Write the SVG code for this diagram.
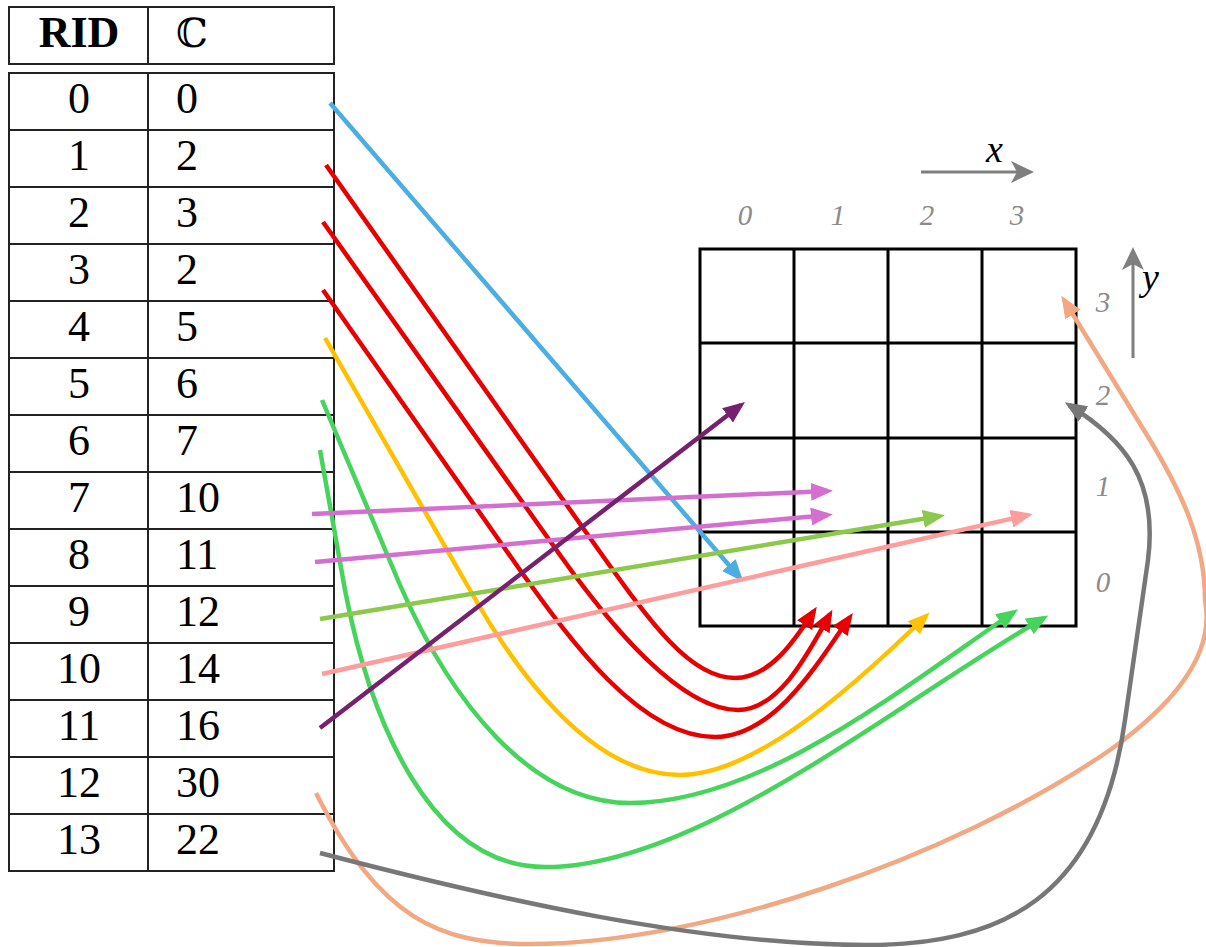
<svg xmlns="http://www.w3.org/2000/svg" width="1206" height="947" viewBox="0 0 1206 947">
<style>
.cell{fill:#fff;stroke:#222;stroke-width:2}
.num{font-family:"Liberation Serif",serif;font-size:44px;fill:#000}
.rid{text-anchor:middle}
.gl{fill:none;stroke:#000;stroke-width:3}
.lab{font-family:"Liberation Serif",serif;font-style:italic;font-size:29px;fill:#8a8a8a;text-anchor:middle}
.axv{font-family:"Liberation Serif",serif;font-style:italic;font-size:38px;fill:#000}
.c{fill:none;stroke-width:4.5}
</style>
<defs>
<marker id="m-blue" viewBox="0 0 22 18" refX="17" refY="9" markerWidth="22" markerHeight="18" markerUnits="userSpaceOnUse" orient="auto"><path d="M0,0 L22,9 L0,18 Z" fill="#4aaee0"/></marker>
<marker id="m-red" viewBox="0 0 22 18" refX="17" refY="9" markerWidth="22" markerHeight="18" markerUnits="userSpaceOnUse" orient="auto"><path d="M0,0 L22,9 L0,18 Z" fill="#e80000"/></marker>
<marker id="m-yel" viewBox="0 0 22 18" refX="17" refY="9" markerWidth="22" markerHeight="18" markerUnits="userSpaceOnUse" orient="auto"><path d="M0,0 L22,9 L0,18 Z" fill="#ffc000"/></marker>
<marker id="m-grn" viewBox="0 0 22 18" refX="17" refY="9" markerWidth="22" markerHeight="18" markerUnits="userSpaceOnUse" orient="auto"><path d="M0,0 L22,9 L0,18 Z" fill="#46d45c"/></marker>
<marker id="m-vio" viewBox="0 0 22 18" refX="17" refY="9" markerWidth="22" markerHeight="18" markerUnits="userSpaceOnUse" orient="auto"><path d="M0,0 L22,9 L0,18 Z" fill="#d46fd0"/></marker>
<marker id="m-lgr" viewBox="0 0 22 18" refX="17" refY="9" markerWidth="22" markerHeight="18" markerUnits="userSpaceOnUse" orient="auto"><path d="M0,0 L22,9 L0,18 Z" fill="#8cc84b"/></marker>
<marker id="m-pnk" viewBox="0 0 22 18" refX="17" refY="9" markerWidth="22" markerHeight="18" markerUnits="userSpaceOnUse" orient="auto"><path d="M0,0 L22,9 L0,18 Z" fill="#ff9c9c"/></marker>
<marker id="m-pur" viewBox="0 0 22 18" refX="17" refY="9" markerWidth="22" markerHeight="18" markerUnits="userSpaceOnUse" orient="auto"><path d="M0,0 L22,9 L0,18 Z" fill="#76206e"/></marker>
<marker id="m-org" viewBox="0 0 22 18" refX="17" refY="9" markerWidth="22" markerHeight="18" markerUnits="userSpaceOnUse" orient="auto"><path d="M0,0 L22,9 L0,18 Z" fill="#f2a882"/></marker>
<marker id="m-gry" viewBox="0 0 22 18" refX="17" refY="9" markerWidth="22" markerHeight="18" markerUnits="userSpaceOnUse" orient="auto"><path d="M0,0 L22,9 L0,18 Z" fill="#777"/></marker>
</defs>
<rect width="1206" height="947" fill="#fff"/>

<g id="table-header">
<rect class="cell" x="9" y="7" width="325" height="57"/>
<line x1="148" y1="7" x2="148" y2="64" stroke="#222" stroke-width="2"/>
<text class="num rid" x="79" y="47" font-weight="bold">RID</text>
<text class="num" x="176" y="47" style="font-family:'DejaVu Serif','Liberation Serif',serif;font-size:40px">ℂ</text>
</g>

<g id="table-body">
<g id="row-0"><rect class="cell" x="9" y="73" width="325" height="57"/><line x1="148" y1="73" x2="148" y2="130" stroke="#222" stroke-width="2"/><text class="num rid" x="79" y="113">0</text><text class="num" x="176" y="113">0</text></g>
<g id="row-1"><rect class="cell" x="9" y="130" width="325" height="57"/><line x1="148" y1="130" x2="148" y2="187" stroke="#222" stroke-width="2"/><text class="num rid" x="79" y="170">1</text><text class="num" x="176" y="170">2</text></g>
<g id="row-2"><rect class="cell" x="9" y="187" width="325" height="57"/><line x1="148" y1="187" x2="148" y2="244" stroke="#222" stroke-width="2"/><text class="num rid" x="79" y="227">2</text><text class="num" x="176" y="227">3</text></g>
<g id="row-3"><rect class="cell" x="9" y="244" width="325" height="57"/><line x1="148" y1="244" x2="148" y2="301" stroke="#222" stroke-width="2"/><text class="num rid" x="79" y="284">3</text><text class="num" x="176" y="284">2</text></g>
<g id="row-4"><rect class="cell" x="9" y="301" width="325" height="57"/><line x1="148" y1="301" x2="148" y2="358" stroke="#222" stroke-width="2"/><text class="num rid" x="79" y="341">4</text><text class="num" x="176" y="341">5</text></g>
<g id="row-5"><rect class="cell" x="9" y="358" width="325" height="57"/><line x1="148" y1="358" x2="148" y2="415" stroke="#222" stroke-width="2"/><text class="num rid" x="79" y="398">5</text><text class="num" x="176" y="398">6</text></g>
<g id="row-6"><rect class="cell" x="9" y="415" width="325" height="57"/><line x1="148" y1="415" x2="148" y2="472" stroke="#222" stroke-width="2"/><text class="num rid" x="79" y="455">6</text><text class="num" x="176" y="455">7</text></g>
<g id="row-7"><rect class="cell" x="9" y="472" width="325" height="57"/><line x1="148" y1="472" x2="148" y2="529" stroke="#222" stroke-width="2"/><text class="num rid" x="79" y="512">7</text><text class="num" x="176" y="512">10</text></g>
<g id="row-8"><rect class="cell" x="9" y="529" width="325" height="57"/><line x1="148" y1="529" x2="148" y2="586" stroke="#222" stroke-width="2"/><text class="num rid" x="79" y="569">8</text><text class="num" x="176" y="569">11</text></g>
<g id="row-9"><rect class="cell" x="9" y="586" width="325" height="57"/><line x1="148" y1="586" x2="148" y2="643" stroke="#222" stroke-width="2"/><text class="num rid" x="79" y="626">9</text><text class="num" x="176" y="626">12</text></g>
<g id="row-10"><rect class="cell" x="9" y="643" width="325" height="57"/><line x1="148" y1="643" x2="148" y2="700" stroke="#222" stroke-width="2"/><text class="num rid" x="79" y="683">10</text><text class="num" x="176" y="683">14</text></g>
<g id="row-11"><rect class="cell" x="9" y="700" width="325" height="57"/><line x1="148" y1="700" x2="148" y2="757" stroke="#222" stroke-width="2"/><text class="num rid" x="79" y="740">11</text><text class="num" x="176" y="740">16</text></g>
<g id="row-12"><rect class="cell" x="9" y="757" width="325" height="57"/><line x1="148" y1="757" x2="148" y2="814" stroke="#222" stroke-width="2"/><text class="num rid" x="79" y="797">12</text><text class="num" x="176" y="797">30</text></g>
<g id="row-13"><rect class="cell" x="9" y="814" width="325" height="57"/><line x1="148" y1="814" x2="148" y2="871" stroke="#222" stroke-width="2"/><text class="num rid" x="79" y="854">13</text><text class="num" x="176" y="854">22</text></g>
</g>

<g id="grid">
<rect class="gl" x="700" y="249" width="376" height="377"/>
<line class="gl" x1="794" y1="249" x2="794" y2="626"/>
<line class="gl" x1="888" y1="249" x2="888" y2="626"/>
<line class="gl" x1="982" y1="249" x2="982" y2="626"/>
<line class="gl" x1="700" y1="343" x2="1076" y2="343"/>
<line class="gl" x1="700" y1="438" x2="1076" y2="438"/>
<line class="gl" x1="700" y1="532" x2="1076" y2="532"/>
</g>

<g id="axis-labels">
<text class="lab" x="745" y="225">0</text>
<text class="lab" x="838" y="225">1</text>
<text class="lab" x="927" y="225">2</text>
<text class="lab" x="1017" y="225">3</text>
<text class="lab" x="1103" y="312">3</text>
<text class="lab" x="1103" y="405">2</text>
<text class="lab" x="1103" y="496">1</text>
<text class="lab" x="1103" y="592">0</text>
</g>

<g id="x-axis">
<line x1="921" y1="172" x2="1020" y2="172" stroke="#7f7f7f" stroke-width="3"/>
<path d="M1034,172 L1011,161 L1017,172 L1011,183 Z" fill="#7f7f7f"/>
<text class="axv" x="986" y="162">x</text>
</g>
<g id="y-axis">
<line x1="1133" y1="358" x2="1133" y2="262" stroke="#7f7f7f" stroke-width="3"/>
<path d="M1133,247 L1122,270 L1133,264 L1144,270 Z" fill="#7f7f7f"/>
<text class="axv" x="1142" y="290">y</text>
</g>

<g id="connectors">
<path class="c" stroke="#4aaee0" d="M330,103 L740,578" marker-end="url(#m-blue)"/>
<path class="c" stroke="#e80000" d="M326,165 L600,552 C650,622 690,678 735,678 C770,678 795,640 814,611" marker-end="url(#m-red)"/>
<path class="c" stroke="#e80000" d="M323,222 L560,555 C610,625 680,710 738,710 C780,710 810,650 830,614" marker-end="url(#m-red)"/>
<path class="c" stroke="#e80000" d="M323,290 L520,570 C570,640 640,737 715,737 C775,737 820,660 850,617" marker-end="url(#m-red)"/>
<path class="c" stroke="#ffc000" d="M325,338 L470,590 C515,670 590,775 680,775 C750,775 840,700 926,616" marker-end="url(#m-yel)"/>
<path class="c" stroke="#46d45c" d="M322,400 L400,585 C450,700 530,803 630,803 C760,803 900,690 1014,612" marker-end="url(#m-grn)"/>
<path class="c" stroke="#46d45c" d="M320,450 L345,590 C370,720 430,867 545,867 C700,867 900,700 1044,618" marker-end="url(#m-grn)"/>
<path class="c" stroke="#d46fd0" d="M312,514 L828,491" marker-end="url(#m-vio)"/>
<path class="c" stroke="#d46fd0" d="M315,562 L828,515" marker-end="url(#m-vio)"/>
<path class="c" stroke="#8cc84b" d="M320,619 L940,516" marker-end="url(#m-lgr)"/>
<path class="c" stroke="#ff9c9c" d="M322,674 L1028,515" marker-end="url(#m-pnk)"/>
<path class="c" stroke="#76206e" d="M320,728 L741,405" marker-end="url(#m-pur)"/>
<path class="c" stroke="#f2a882" d="M316,793 C380,920 440,944 531,944 C700,944 950,860 1110,750 C1180,700 1215,650 1205,600 C1205,540 1180,490 1150,440 L1064,300" marker-end="url(#m-org)"/>
<path class="c" stroke="#777" d="M320,853 C500,900 700,945 866,945 C1000,945 1100,900 1125,720 L1148,560 C1158,480 1125,440 1069,405" marker-end="url(#m-gry)"/>
</g>
</svg>
